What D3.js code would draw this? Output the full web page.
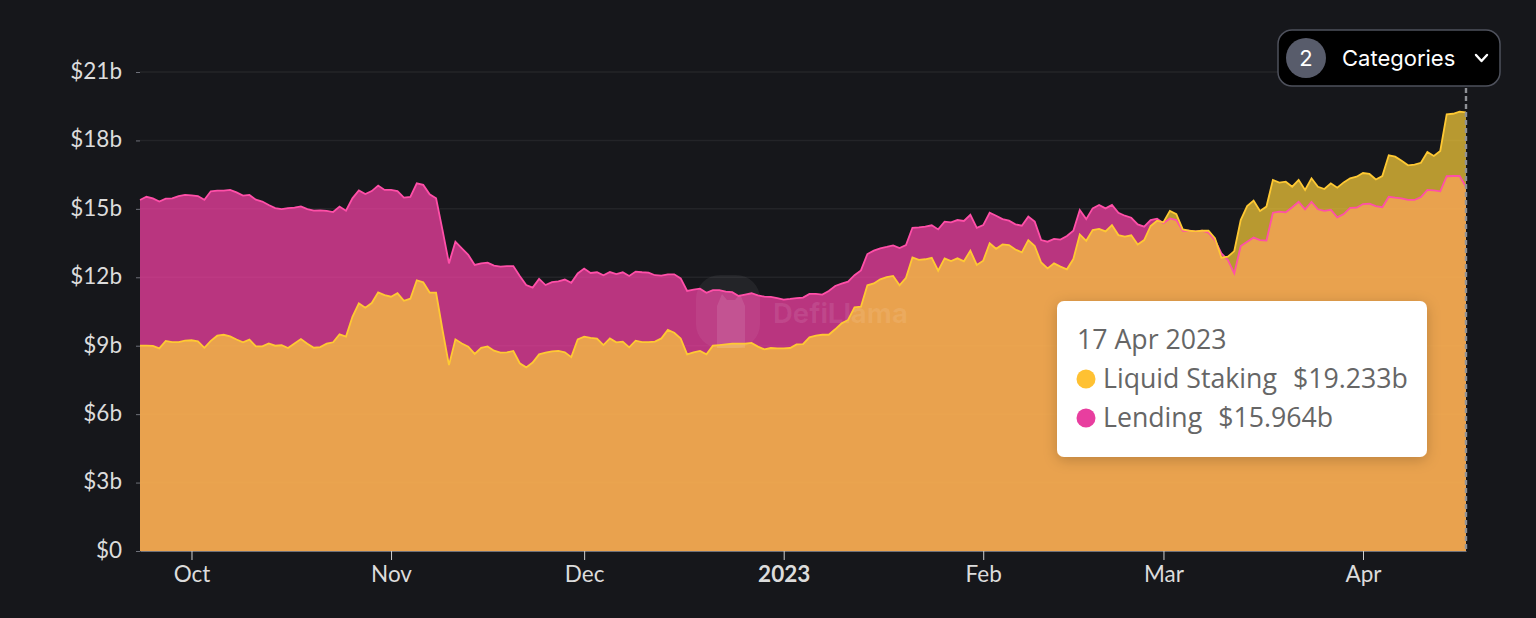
<!DOCTYPE html>
<html>
<head>
<meta charset="utf-8">
<script src="https://cdn.jsdelivr.net/npm/d3@7"></script>
<style>
    html, body { margin: 0; padding: 0; background: #16171b; }
    svg { display: block; }
    .eixo text { font-family: Lato, sans-serif; font-size: 22.5px; fill: #dcdcdc; }
    .eixo path, .eixo line { stroke: #6e7079; }
    .eixo-y .domain { display: none; }
    .eixo-x line { stroke: #d0d0d0; }
    .tooltip-texto { font-family: "Open Sans", sans-serif; font-size: 26.7px; fill: #666; }
    .botao-texto { font-family: Inter, sans-serif; font-size: 22px; fill: #fff; }
</style>
</head>
<body>
<svg id="grafico" width="1536" height="618"></svg>
<script>
// valores em bilhoes de dolares, um por dia a partir de 23 set 2022
const dataInicial = '2022-09-23';

const liquidStaking = [
    9.00, 9.00, 8.99, 8.88, 9.21, 9.16, 9.16, 9.22, 9.24, 9.19, 8.91, 9.21,
    9.44, 9.48, 9.41, 9.27, 9.15, 9.27, 8.97, 8.97, 9.10, 9.00, 9.02, 8.90,
    9.10, 9.29, 9.09, 8.91, 8.94, 9.09, 9.15, 9.50, 9.40, 10.27, 10.86, 10.67,
    10.87, 11.34, 11.22, 11.15, 11.30, 10.97, 11.06, 11.87, 11.78, 11.33, 11.33,
    9.69, 8.15, 9.28, 9.10, 8.96, 8.64, 8.91, 8.97, 8.78, 8.70, 8.71, 8.77,
    8.23, 8.05, 8.26, 8.62, 8.70, 8.75, 8.77, 8.71, 8.50, 9.28, 9.40, 9.34,
    9.31, 9.03, 9.32, 9.15, 9.18, 8.93, 9.22, 9.16, 9.16, 9.18, 9.32, 9.69,
    9.57, 9.32, 8.62, 8.71, 8.77, 8.62, 9.00, 9.03,
    9.06, 9.09, 9.09, 9.09, 9.12, 8.96, 8.84, 8.90, 8.88, 8.88, 8.90, 9.06,
    9.07, 9.37, 9.44, 9.48, 9.48, 9.72, 9.98, 10.13, 10.68, 10.71, 11.65, 11.73,
    11.91, 12.01, 12.06, 11.65, 11.98, 12.87, 12.76, 12.79, 12.85, 12.29, 12.83,
    12.71, 12.83, 12.70, 13.17, 12.54, 12.73, 13.49, 13.25,
    13.44, 13.41, 13.22, 13.09, 13.63, 13.37, 12.65, 12.39, 12.61, 12.47, 12.35,
    12.80, 13.88, 13.60, 14.07, 14.12, 14.01, 14.29, 13.85, 13.78, 13.84, 13.44,
    13.63, 14.25, 14.48, 14.41, 14.91, 14.77, 14.10, 14.04, 14.01, 14.04, 14.04,
    13.71, 12.86, 12.90, 13.15, 14.51,
    15.12, 15.36, 14.91, 15.10, 16.27, 16.15, 16.19, 15.97, 16.27, 15.83, 16.34,
    15.97, 15.87, 16.12, 15.93, 16.16, 16.34, 16.41, 16.57, 16.53, 16.29, 16.44,
    17.35, 17.29, 17.11, 16.91, 16.94, 17.02, 17.49, 17.32, 17.54, 19.14, 19.17,
    19.26, 19.233
];

const lending = [
    15.39, 15.53, 15.46, 15.32, 15.45, 15.46, 15.56, 15.61, 15.59, 15.56, 15.40,
    15.77, 15.80, 15.80, 15.83, 15.72, 15.58, 15.61, 15.40, 15.32, 15.17, 15.03,
    14.99, 15.03, 15.05, 15.11, 14.99, 14.92, 14.93, 14.91, 14.86, 15.10, 14.92,
    15.46, 15.81, 15.65, 15.78, 16.02, 15.83, 15.83, 15.78, 15.49, 15.52, 16.12,
    16.05, 15.64, 15.46,
    14.07, 12.61, 13.56, 13.27, 12.98, 12.54, 12.61, 12.64, 12.51, 12.47, 12.49,
    12.49, 12.06, 11.66, 11.55, 11.93, 11.66, 11.79, 11.82, 11.90, 11.76, 12.17,
    12.38, 12.19, 12.22, 12.09, 12.23, 12.14, 12.22, 12.06, 12.25, 12.22, 12.20,
    12.09, 12.07, 12.13, 12.13, 11.95, 11.40, 11.46, 11.50, 11.32, 11.44, 11.44,
    11.37, 11.35, 11.18, 11.24, 11.30, 11.21, 11.15, 11.14, 11.09, 11.02, 11.05,
    11.09, 11.11, 11.27, 11.27, 11.24, 11.40, 11.62, 11.72, 11.81, 12.09, 12.30,
    13.02, 13.17, 13.27, 13.33, 13.40, 13.28, 13.41, 14.17, 14.19, 14.22, 14.28,
    14.10, 14.44, 14.41, 14.51, 14.47, 14.74, 14.17, 14.29, 14.83, 14.70,
    14.55, 14.48, 14.32, 14.26, 14.66, 14.44, 13.63, 13.56, 13.68, 13.65, 13.81,
    14.04, 14.95, 14.55, 15.02, 15.17, 15.02, 15.17, 14.83, 14.70, 14.61, 14.32,
    14.22, 14.51, 14.57, 14.37, 14.58, 14.51, 14.04, 14.04, 14.01, 14.04, 13.96,
    13.63, 13.05, 12.76, 12.17, 13.37,
    13.56, 13.74, 13.63, 13.61, 14.83, 14.88, 14.85, 15.07, 15.31, 14.98, 15.31,
    14.98, 14.91, 14.96, 14.63, 14.77, 15.04, 15.05, 15.21, 15.23, 15.12, 15.07,
    15.53, 15.49, 15.46, 15.39, 15.39, 15.52, 15.83, 15.81, 15.77, 16.43, 16.44,
    16.44, 15.964
];

const ticksY = [0, 3, 6, 9, 12, 15, 18, 21];
const ticksX = ['2022-10-01', '2022-11-01', '2022-12-01', '2023-01-01', '2023-02-01', '2023-03-01', '2023-04-01'];
const rotulosX = ['Oct', 'Nov', 'Dec', '2023', 'Feb', 'Mar', 'Apr'];

const dataTooltip = '17 Apr 2023';
const nomesSeries = ['Liquid Staking', 'Lending'];
const valoresTooltip = ['$19.233b', '$15.964b'];
const coresTooltip = ['#ffc132', '#e83e9f'];

const parseData = d3.utcParse('%Y-%m-%d');
const inicio = parseData(dataInicial);
const diaDe = i => d3.utcDay.offset(inicio, i);

const svg = d3.select('#grafico');

const x = d3.scaleUtc()
    .domain([inicio, diaDe(liquidStaking.length - 1)])
    .range([140, 1466]);
const y = d3.scaleLinear().domain([0, 21]).range([551, 72]);

// linhas de grade
svg.append('g')
    .selectAll('line')
    .data(ticksY.slice(1))
    .enter()
    .append('line')
    .attr('x1', 140).attr('x2', 1466)
    .attr('y1', d => y(d)).attr('y2', d => y(d))
    .attr('stroke', 'rgba(255,255,255,0.06)')
    .attr('stroke-width', 1.5);

const area = d3.area()
    .x((d, i) => x(diaDe(i)))
    .y0(y(0))
    .y1(d => y(d));
const linha = d3.line()
    .x((d, i) => x(diaDe(i)))
    .y(d => y(d));

svg.append('path').attr('d', area(lending)).attr('fill', 'rgb(255,67,170)').attr('fill-opacity', 0.7);
svg.append('path').attr('d', area(liquidStaking)).attr('fill', 'rgb(253,210,57)').attr('fill-opacity', 0.7);

// marca d'agua
const marca = svg.append('g').attr('pointer-events', 'none');
marca.append('rect')
    .attr('x', 696).attr('y', 275).attr('width', 64).attr('height', 73).attr('rx', 24)
    .attr('fill', 'rgba(255,255,255,0.06)');
marca.append('path')
    .attr('d', 'M717 306 L722 294 L727 300 L735 300 L740 294 L745 306 L745 348 L717 348 Z')
    .attr('fill', 'rgba(255,255,255,0.1)');
marca.append('text')
    .attr('x', 773).attr('y', 323)
    .attr('font-family', 'Inter, sans-serif')
    .attr('font-weight', 700)
    .attr('font-size', 27.5)
    .attr('fill', 'rgba(255,255,255,0.09)')
    .text('DefiLlama');

svg.append('path').attr('d', linha(lending)).attr('fill', 'none').attr('stroke', '#ff4fa8').attr('stroke-width', 1.8);
svg.append('path').attr('d', linha(liquidStaking)).attr('fill', 'none').attr('stroke', '#ffc933').attr('stroke-width', 1.8);

// eixos
const eixoY = d3.axisLeft(y)
    .tickValues(ticksY)
    .tickSize(4)
    .tickPadding(14)
    .tickFormat(d => d === 0 ? '$0' : `$${d}b`);
svg.append('g')
    .attr('class', 'eixo eixo-y')
    .attr('transform', 'translate(140,0)')
    .call(eixoY)
    .selectAll('.tick text')
    .attr('dy', '0.28em');

const eixoX = d3.axisBottom(x)
    .tickValues(ticksX.map(parseData))
    .tickSize(9)
    .tickSizeOuter(0)
    .tickPadding(6)
    .tickFormat((d, i) => rotulosX[i]);
const gX = svg.append('g')
    .attr('class', 'eixo eixo-x')
    .attr('transform', 'translate(0,551)')
    .call(eixoX);
gX.selectAll('.tick text')
    .style('font-weight', (d, i) => rotulosX[i] === '2023' ? 700 : 400);

// linha vertical do cursor
svg.append('line')
    .attr('x1', x(diaDe(liquidStaking.length - 1))).attr('x2', x(diaDe(liquidStaking.length - 1)))
    .attr('y1', 88).attr('y2', 551)
    .attr('stroke', '#8f9196')
    .attr('stroke-width', 2.4)
    .attr('stroke-dasharray', '5 3');

// tooltip
const defs = svg.append('defs');
const sombra = defs.append('filter').attr('id', 'sombra')
    .attr('x', '-15%').attr('y', '-20%').attr('width', '130%').attr('height', '145%');
sombra.append('feDropShadow')
    .attr('dx', 0).attr('dy', 3).attr('stdDeviation', 7)
    .attr('flood-color', '#000').attr('flood-opacity', 0.2);

const tooltip = svg.append('g').attr('transform', 'translate(1057,301)');
tooltip.append('rect')
    .attr('width', 370).attr('height', 156).attr('rx', 7)
    .attr('fill', '#fff')
    .attr('filter', 'url(#sombra)');
tooltip.append('text')
    .attr('class', 'tooltip-texto')
    .attr('x', 20).attr('y', 48)
    .text(dataTooltip);

const linhasTooltip = tooltip.selectAll('g.item')
    .data(nomesSeries)
    .enter()
    .append('g')
    .classed('item', true)
    .attr('transform', (d, i) => `translate(0,${78 + i * 39})`);
linhasTooltip.append('circle')
    .attr('cx', 29).attr('cy', 0).attr('r', 9.5)
    .attr('fill', (d, i) => coresTooltip[i]);
const textoItem = linhasTooltip.append('text')
    .attr('class', 'tooltip-texto')
    .attr('x', 46).attr('y', 9);
textoItem.append('tspan').text(d => d);
textoItem.append('tspan').attr('dx', 16).text((d, i) => valoresTooltip[i]);

// botao de categorias
const botao = svg.append('g').attr('transform', 'translate(1278,30)');
botao.append('rect')
    .attr('width', 222).attr('height', 56).attr('rx', 14)
    .attr('fill', '#000')
    .attr('stroke', '#4e515c')
    .attr('stroke-width', 1.5);
botao.append('circle').attr('cx', 28).attr('cy', 28).attr('r', 20).attr('fill', '#585c6b');
botao.append('text').attr('class', 'botao-texto')
    .attr('x', 28).attr('y', 36).attr('text-anchor', 'middle')
    .text(nomesSeries.length);
botao.append('text').attr('class', 'botao-texto')
    .attr('x', 64).attr('y', 36)
    .text('Categories');
botao.append('path')
    .attr('d', 'M198 25 L203.5 31 L209 25')
    .attr('fill', 'none')
    .attr('stroke', '#fff')
    .attr('stroke-width', 2.4)
    .attr('stroke-linecap', 'round')
    .attr('stroke-linejoin', 'round');
</script>
</body>
</html>
